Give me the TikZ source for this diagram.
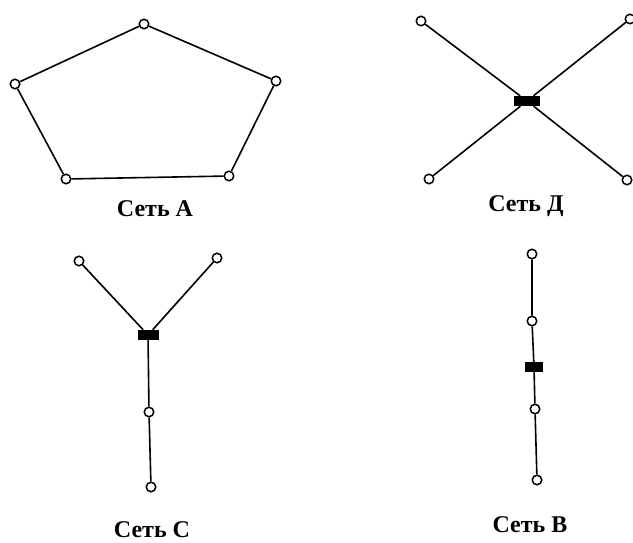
\documentclass[tikz,border=0pt]{standalone}
\usepackage{fontspec}
\setmainfont{Liberation Serif}
\begin{document}
\begin{tikzpicture}[x=1pt,y=-1pt,
  term/.style={circle,draw,fill=white,line width=1.5pt,inner sep=0pt,minimum size=9.5pt},
  hub/.style={rectangle,fill=black,inner sep=0pt},
  link/.style={line width=1.6pt},
  lbl/.style={font=\fontsize{24}{28}\selectfont\bfseries}]
\useasboundingbox (0,0) rectangle (633,543);
% Network A
\node[term] (a1) at (144,24) {};
\node[term] (a2) at (276,81) {};
\node[term] (a3) at (229,176) {};
\node[term] (a4) at (66,179) {};
\node[term] (a5) at (15,84) {};
\draw[link] (a1) -- (a2) -- (a3) -- (a4) -- (a5) -- (a1);
\node[lbl] (la) at (155,209) {Сеть А};
% Network D
\node[hub,minimum width=26pt,minimum height=10pt] (dh) at (527,101) {};
\node[term] (d1) at (421,21) {};
\node[term] (d2) at (630,19) {};
\node[term] (d3) at (429,179) {};
\node[term] (d4) at (627,180) {};
\foreach \t in {d1,d2,d3,d4} \draw[link] (\t) -- (dh);
\node[lbl] (ld) at (526,206) {Сеть Д};
% Network C
\node[hub,minimum width=21pt,minimum height=10pt] (ch) at (148,335) {};
\node[term] (c1) at (79,261) {};
\node[term] (c2) at (217,258) {};
\node[term] (c3) at (149,412) {};
\node[term] (c4) at (151,487) {};
\draw[link] (c1) -- (ch);
\draw[link] (c2) -- (ch);
\draw[link] (ch) -- (c3) -- (c4);
\node[lbl] (lc) at (152,530) {Сеть С};
% Network B
\node[hub,minimum width=18pt,minimum height=10pt] (bh) at (534,367) {};
\node[term] (b1) at (532,254) {};
\node[term] (b2) at (532,321) {};
\node[term] (b3) at (535,409) {};
\node[term] (b4) at (537,480) {};
\draw[link] (b1) -- (b2) -- (bh) -- (b3) -- (b4);
\node[lbl] (lb) at (530,525) {Сеть В};
\end{tikzpicture}
\end{document}
